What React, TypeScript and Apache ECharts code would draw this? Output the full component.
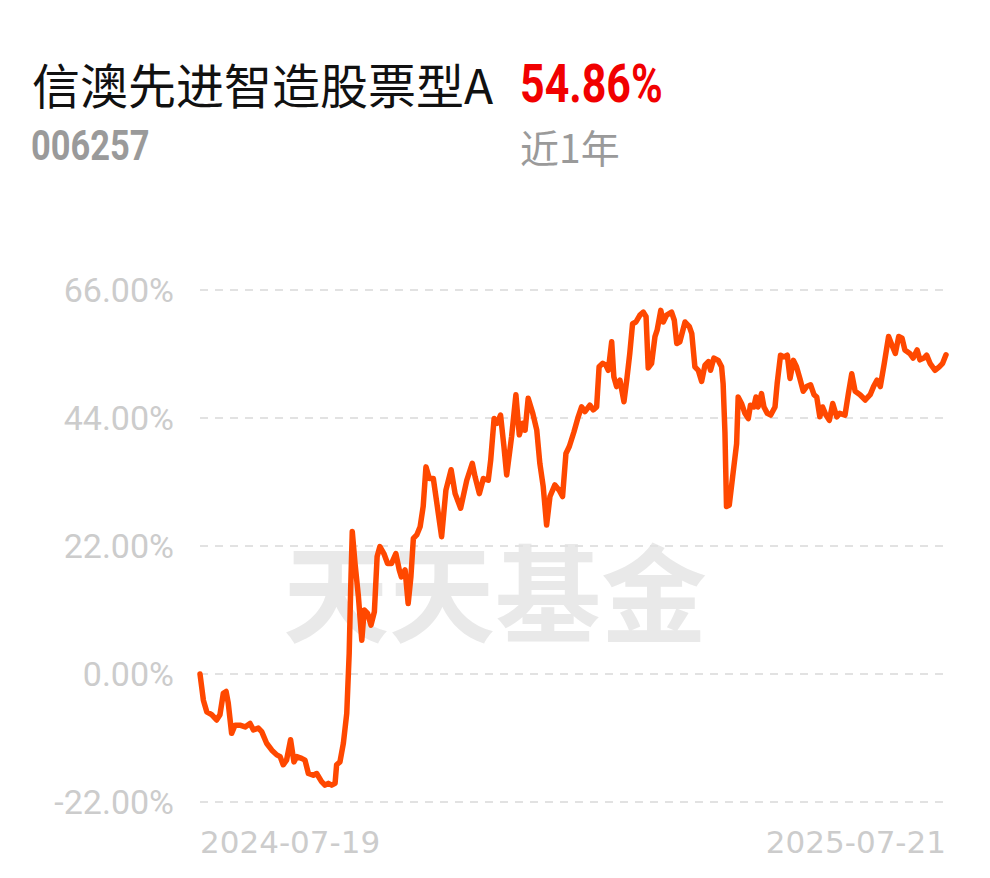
import React, { useEffect, useRef } from "react";
import * as echarts from "echarts";

const fundName = "信澳先进智造股票型A";
const fundCode = "006257";
const periodReturn = "54.86%";
const periodLabel = "近1年";
const watermark = "天天基金";

const xLabels = ["2024-07-19", "2025-07-21"];
const xLabelPositions = [0, 243];
const yTicks = [-22, 0, 22, 44, 66];

// trading-day offset from 2024-07-19
const days = [
  0, 1.1, 2.2, 3.8, 5.4, 6.5, 7.6, 8.5, 9.2, 10.3,
  11.4, 13.0, 14.7, 16.3, 17.4, 19.0, 20.1, 21.7, 23.4, 25.0,
  26.1, 27.1, 28.2, 29.5, 30.6, 31.5, 33.1, 34.2, 35.3, 36.9,
  38.0, 39.6, 40.7, 41.8, 42.9, 44.0, 44.5, 45.6, 46.7, 47.8,
  48.6, 49.1, 49.6, 50.5, 51.6, 52.7, 53.5, 54.6, 55.7, 56.8,
  57.7, 58.6, 59.9, 61.1, 62.4, 63.8, 64.9, 65.6, 66.8, 67.8,
  68.7, 69.5, 70.6, 71.7, 72.7, 73.6, 74.7, 76.0, 77.3, 78.7,
  80.1, 81.8, 83.1, 84.9, 86.9, 88.7, 89.6, 91.0, 92.3, 93.9,
  94.7, 95.8, 96.8, 97.9, 99.0, 99.9, 101.5, 102.9, 104.0, 105.1,
  105.9, 106.9, 108.4, 109.7, 110.7, 111.8, 112.9, 114.0, 115.6, 117.0,
  118.1, 119.2, 120.3, 121.8, 123.2, 124.3, 125.4, 127.0, 128.1, 129.2,
  130.0, 131.2, 132.2, 133.0, 134.1, 134.8, 135.7, 136.8, 138.1, 139.0,
  140.0, 140.9, 142.0, 143.3, 144.4, 145.3, 146.0, 147.1, 148.2, 148.9,
  150.1, 150.9, 152.0, 153.6, 154.5, 155.3, 156.3, 158.0, 159.4, 160.2,
  161.2, 162.3, 163.4, 164.5, 165.6, 166.3, 167.4, 168.8, 169.9, 170.4,
  171.0, 171.5, 172.4, 173.5, 174.8, 175.3, 176.4, 177.5, 178.6, 179.3,
  180.4, 181.1, 181.8, 182.9, 183.7, 184.8, 185.9, 187.3, 188.0, 189.1,
  190.2, 191.3, 192.2, 193.3, 194.3, 195.4, 196.5, 197.6, 198.9, 200.0,
  200.9, 201.9, 202.8, 203.9, 205.0, 206.1, 207.4, 208.4, 210.1, 211.2,
  212.3, 213.4, 215.0, 216.7, 218.3, 219.4, 220.5, 221.6, 222.9, 224.3,
  225.4, 226.5, 227.6, 228.7, 229.6, 231.2, 232.3, 233.6, 234.5, 235.8,
  236.7, 237.8, 239.4, 240.8, 241.9, 243.0,
];

// cumulative return, %
const returns = [
  0, -4.5, -6.5, -7.0, -7.9, -7.0, -3.3, -3.0, -5.0, -10.2,
  -8.8, -8.8, -9.1, -8.5, -9.6, -9.3, -9.9, -11.9, -13.1, -13.9,
  -14.2, -15.6, -14.8, -11.3, -15.1, -14.2, -14.5, -14.8, -17.1, -17.4,
  -17.1, -18.5, -19.1, -18.8, -19.1, -18.8, -15.6, -15.1, -11.9, -6.8,
  3.6, 15.0, 24.5, 19.0, 13.3, 5.8, 11.0, 10.4, 8.4, 10.7,
  20.2, 21.9, 20.7, 19.0, 19.0, 20.7, 17.9, 16.7, 17.9, 12.1,
  16.7, 23.3, 23.9, 25.3, 28.8, 35.6, 33.6, 33.6, 28.8, 23.6,
  31.6, 35.1, 31.0, 28.5, 33.3, 36.2, 33.9, 31.0, 33.6, 33.3,
  36.8, 43.9, 43.1, 44.5, 39.1, 34.2, 40.8, 48.0, 41.1, 43.1,
  41.9, 47.4, 44.8, 41.9, 36.2, 32.2, 25.6, 30.5, 32.5, 31.6,
  30.5, 37.9, 39.1, 41.6, 44.2, 45.9, 45.1, 46.2, 45.4, 45.9,
  52.8, 53.4, 53.1, 52.2, 57.1, 51.1, 49.4, 50.5, 46.8, 50.5,
  55.1, 60.2, 60.5, 61.7, 62.2, 61.4, 52.6, 53.4, 58.0, 59.1,
  62.5, 60.5, 61.7, 62.2, 60.8, 56.8, 57.1, 60.5, 59.7, 58.5,
  52.8, 52.2, 50.3, 53.1, 53.7, 52.2, 54.3, 53.9, 52.8, 49.9,
  41.4, 28.8, 29.0, 33.9, 39.6, 47.6, 46.5, 44.8, 43.9, 46.2,
  45.9, 47.6, 45.9, 48.2, 45.9, 44.8, 44.5, 45.9, 49.9, 54.8,
  54.5, 54.8, 50.8, 53.9, 52.8, 50.8, 48.6, 49.4, 49.7, 48.0,
  47.6, 44.2, 45.9, 44.5, 43.6, 46.5, 44.2, 44.8, 44.5, 48.2,
  51.6, 48.6, 48.0, 47.1, 48.0, 49.4, 50.5, 49.4, 53.4, 58.0,
  56.5, 55.1, 58.0, 57.7, 55.7, 55.1, 54.3, 55.7, 54.0, 54.3,
  54.8, 53.4, 52.2, 52.8, 53.4, 54.86,
];

export default function App() {
  const ref = useRef<HTMLDivElement>(null);

  useEffect(() => {
    if (!ref.current) return;
    const chart = echarts.init(ref.current, null, { renderer: "svg" });
    const n = Math.min(days.length, returns.length);
    const seriesData = [] as [number, number][];
    for (let i = 0; i < n; i++) seriesData.push([days[i], returns[i]]);

    chart.setOption({
      animation: false,
      backgroundColor: "#ffffff",
      grid: { left: 200, right: 44, top: 290, bottom: 76 },
      graphic: [
        {
          type: "text",
          z: -10,
          x: 495,
          y: 588,
          silent: true,
          style: {
            text: watermark,
            x: 0,
            y: 0,
            align: "center",
            verticalAlign: "middle",
            fontFamily: "Noto Sans CJK SC",
            fontWeight: "bold",
            fontSize: 106,
            fill: "#e9e9e9",
          },
        },
        {
          type: "text",
          x: 32,
          y: 83,
          style: {
            text: fundName,
            align: "left",
            verticalAlign: "middle",
            fontFamily: "Noto Sans CJK SC",
            fontSize: 48,
            fill: "#111111",
          },
        },
        {
          type: "text",
          x: 520,
          y: 84,
          scaleX: 0.81,
          style: {
            text: periodReturn,
            align: "left",
            verticalAlign: "middle",
            fontFamily: "Roboto",
            fontWeight: "bold",
            fontSize: 53,
            fill: "#f10000",
          },
        },
        {
          type: "text",
          x: 31,
          y: 145,
          scaleX: 0.82,
          style: {
            text: fundCode,
            align: "left",
            verticalAlign: "middle",
            fontFamily: "Roboto",
            fontWeight: "bold",
            fontSize: 42,
            fill: "#9a9a9a",
          },
        },
        {
          type: "text",
          x: 520,
          y: 146,
          style: {
            text: periodLabel,
            align: "left",
            verticalAlign: "middle",
            fontFamily: "Noto Sans CJK SC",
            fontSize: 39,
            fill: "#9a9a9a",
          },
        },
      ],
      xAxis: {
        type: "value",
        min: xLabelPositions[0],
        max: xLabelPositions[xLabelPositions.length - 1],
        axisLine: { show: false },
        axisTick: { show: false },
        splitLine: { show: false },
        axisLabel: {
          customValues: xLabelPositions,
          showMinLabel: true,
          showMaxLabel: true,
          alignMinLabel: "left",
          alignMaxLabel: "right",
          margin: 24,
          fontFamily: "DejaVu Sans",
          fontSize: 31,
          color: "#cccccc",
          formatter: (v: number) => {
            const i = xLabelPositions.indexOf(v);
            return i >= 0 ? xLabels[i] : "";
          },
        },
      },
      yAxis: {
        type: "value",
        min: yTicks[0],
        max: yTicks[yTicks.length - 1],
        interval: yTicks[1] - yTicks[0],
        axisLine: { show: false },
        axisTick: { show: false },
        splitLine: {
          show: true,
          lineStyle: { color: "#e2e2e2", width: 2, type: [8, 7] },
        },
        axisLabel: {
          margin: 26,
          fontFamily: "Roboto",
          fontSize: 34,
          color: "#cccccc",
          formatter: (v: number) => v.toFixed(2) + "%",
        },
      },
      series: [
        {
          type: "line",
          data: seriesData,
          showSymbol: false,
          symbol: "none",
          smooth: false,
          z: 5,
          lineStyle: { color: "#ff4800", width: 5.5, join: "round", cap: "round" },
        },
      ],
    });

    return () => chart.dispose();
  }, []);

  return (
    <div
      ref={ref}
      style={{ position: "absolute", left: 0, top: 0, width: 990, height: 878 }}
    />
  );
}
